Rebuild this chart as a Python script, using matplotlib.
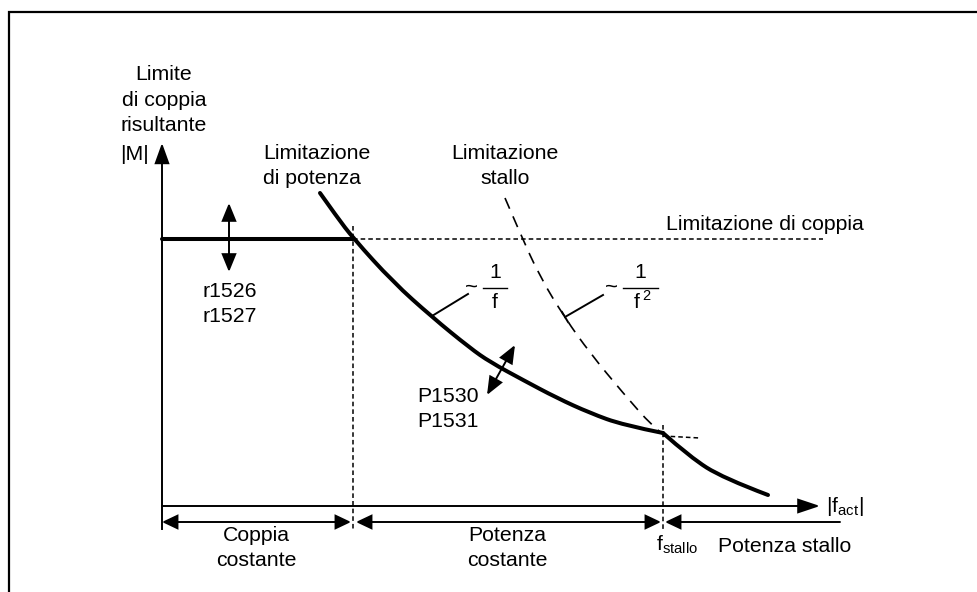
"""
Torque limit vs. output frequency: constant torque, constant power and
stall power regions (pixel-space schematic).
"""

import matplotlib
matplotlib.use("Agg")
import matplotlib.pyplot as plt
from matplotlib.patches import FancyArrowPatch, PathPatch
from matplotlib.path import Path

plt.rcParams["font.family"] = ["Liberation Sans", "DejaVu Sans"]
plt.rcParams["mathtext.fontset"] = "custom"
plt.rcParams["mathtext.rm"] = "Liberation Sans"
plt.rcParams["mathtext.it"] = "Liberation Sans"

# ---------------------------------------------------------------------------
# Geometry of the diagram (pixel space, y grows downwards)
# ---------------------------------------------------------------------------
x_origin, y_origin = 162, 506          # axis origin
x_axis_end, y_axis_end = 820, 143      # arrow tips
f_corner = 353                         # end of constant torque region
f_stallo = 663                         # stall frequency
m_limit = 239                          # torque limit level
y_dim = 522                            # dimension arrows below the axis

# torque-limit plateau
plateau_x = [x_origin, f_corner]
plateau_y = [m_limit, m_limit]

# power limit curve ~ 1/f
power_x = [320, 337, 353, 393, 432, 470, 490, 523, 557, 590, 623, 663]
power_y = [193, 217, 238, 282, 317, 348, 362, 380, 398, 413, 425, 433]

# stall power curve beyond f_stallo
stall_x = [663, 690, 723, 768]
stall_y = [433, 457, 478, 495]

# stall limit curve ~ 1/f^2 (dashed)
stall_lim_x = [505, 520, 540, 565, 590, 623, 653, 663]
stall_lim_y = [198, 233, 277, 318, 353, 393, 427, 434]

TEXT = 15.3
LS = 1.42
LW_THICK = 2.9
LW_AXIS = 1.4
LW_DASH = 1.1
DOTTED = (0, (3, 2))
DASHED = (0, (7, 5))

fig = plt.figure(figsize=(9.77, 5.92), dpi=100)
ax = fig.add_axes([0, 0, 1, 1])
ax.set_xlim(0, 977)
ax.set_ylim(592, 0)
ax.axis("off")


def arrow(p0, p1, style, head_len=1.0, head_w=0.45, lw=LW_AXIS):
    a = FancyArrowPatch(
        p0, p1,
        arrowstyle=f"{style},head_length={head_len},head_width={head_w}",
        mutation_scale=10, shrinkA=0, shrinkB=0,
        color="black", lw=lw, joinstyle="miter",
    )
    ax.add_patch(a)


def smooth_curve(xs, ys, **kw):
    """Quadratic Bezier through the midpoints, read points as controls."""
    pts = list(zip(xs, ys))
    verts = [pts[0]]
    codes = [Path.MOVETO]
    for i in range(1, len(pts) - 1):
        mid = ((pts[i][0] + pts[i + 1][0]) / 2, (pts[i][1] + pts[i + 1][1]) / 2)
        if i == len(pts) - 2:
            mid = pts[-1]
        verts += [pts[i], mid]
        codes += [Path.CURVE3, Path.CURVE3]
    if len(pts) == 2:
        verts.append(pts[1])
        codes.append(Path.LINETO)
    ax.add_patch(PathPatch(Path(verts, codes), fill=False, **kw))


# outer frame (open to the right / bottom)
ax.plot([9, 9, 977], [592, 12, 12], color="black", lw=1.6,
        solid_joinstyle="miter")

# axes
arrow((x_origin, y_origin), (x_origin, y_axis_end), "-|>", head_len=1.25)
arrow((x_origin, y_origin), (x_axis_end, y_origin), "-|>", head_len=1.35)

# helper lines
ax.plot([f_corner, f_corner], [226, 530], color="black", lw=LW_DASH, ls=DOTTED)
ax.plot([f_corner, 823], [m_limit, m_limit], color="black", lw=LW_DASH, ls=DOTTED)
ax.plot([f_stallo, f_stallo], [425, 530], color="black", lw=LW_DASH, ls=DOTTED)
ax.plot([f_stallo, 700], [436, 438], color="black", lw=LW_DASH, ls=DOTTED)

# limit curves
smooth_curve(stall_lim_x, stall_lim_y, edgecolor="black", lw=1.2,
             linestyle=DASHED)
ax.plot(plateau_x, plateau_y, color="black", lw=LW_THICK,
        solid_capstyle="round")
smooth_curve(power_x, power_y, edgecolor="black", lw=LW_THICK,
             capstyle="round", joinstyle="round")
smooth_curve(stall_x, stall_y, edgecolor="black", lw=LW_THICK,
             capstyle="round", joinstyle="round")

# adjustment arrows
arrow((229, 238), (229, 203), "-|>", head_len=1.1, head_w=0.45)
arrow((229, 238), (229, 272), "-|>", head_len=1.1, head_w=0.45)
arrow((487, 395), (515, 345), "<|-|>", head_len=1.1, head_w=0.45)

# leader lines for the 1/f and 1/f^2 labels
ax.plot([432, 468], [316, 294], color="black", lw=LW_AXIS)
ax.plot([565, 603], [317, 295], color="black", lw=LW_AXIS)
ax.plot([562, 568], [312, 322], color="black", lw=LW_AXIS)

# dimension arrows under the frequency axis
ax.plot([x_origin, x_origin], [y_origin, 529], color="black", lw=LW_AXIS)
arrow((x_origin, y_dim), (f_corner - 2, y_dim), "<|-|>", head_len=0.95)
arrow((f_corner + 3, y_dim), (f_stallo - 2, y_dim), "<|-|>", head_len=0.95)
arrow((f_stallo + 2, y_dim), (840, y_dim), "<|-", head_len=0.95)

# ---------------------------------------------------------------------------
# Labels
# ---------------------------------------------------------------------------
ax.text(164, 100, "Limite\ndi coppia\nrisultante", fontsize=TEXT,
        ha="center", va="center", linespacing=LS)
ax.text(149, 155, "|M|", fontsize=TEXT, ha="right", va="center")
ax.text(263, 166, "Limitazione\ndi potenza", fontsize=TEXT,
        ha="left", va="center", linespacing=LS)
ax.text(505, 166, "Limitazione\nstallo", fontsize=TEXT,
        ha="center", va="center", linespacing=LS)
ax.text(666, 224, "Limitazione di coppia", fontsize=TEXT,
        ha="left", va="center")
ax.text(202, 304, "r1526\nr1527", fontsize=TEXT, ha="left", va="center",
        linespacing=LS)
ax.text(417, 409, "P1530\nP1531", fontsize=TEXT, ha="left", va="center",
        linespacing=LS)

# ~ 1/f
ax.text(472, 287, "~", fontsize=16, ha="center", va="center")
ax.text(495, 273, "1", fontsize=TEXT, ha="center", va="center")
ax.plot([483, 507], [288, 288], color="black", lw=1.0)
ax.text(495, 303, "f", fontsize=TEXT, ha="center", va="center")

# ~ 1/f^2
ax.text(611, 287, "~", fontsize=16, ha="center", va="center")
ax.text(640, 273, "1", fontsize=TEXT, ha="center", va="center")
ax.plot([623, 658], [288, 288], color="black", lw=1.0)
ax.text(637, 303, "f", fontsize=TEXT, ha="center", va="center")
ax.text(646, 296, "2", fontsize=10.5, ha="center", va="center")

ax.text(826, 506, r"$|\mathrm{f}_{\mathrm{act}}|$", fontsize=TEXT,
        ha="left", va="center")
ax.text(256, 548, "Coppia\ncostante", fontsize=TEXT, ha="center",
        va="center", linespacing=LS)
ax.text(507, 548, "Potenza\ncostante", fontsize=TEXT, ha="center",
        va="center", linespacing=LS)
ax.text(656, 545, r"$\mathrm{f}_{\mathrm{stallo}}$", fontsize=TEXT,
        ha="left", va="center")
ax.text(718, 547, "Potenza stallo", fontsize=TEXT, ha="left", va="center")

fig.savefig("out.png", dpi=100)
